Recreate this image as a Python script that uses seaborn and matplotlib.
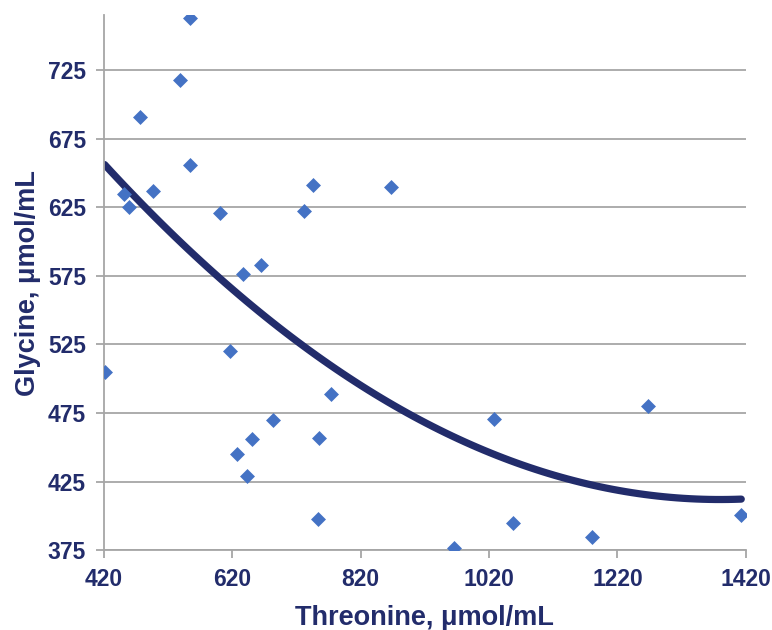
import matplotlib
matplotlib.use('Agg')
import matplotlib.pyplot as plt
import seaborn as sns
import numpy as np
import pandas as pd

# threonine vs glycine, umol/mL
threonine = [554, 538, 476, 554, 451, 459, 496, 600, 731, 745, 867, 636, 664,
             421, 617, 774, 684, 755, 651, 628, 643, 753,
             1027, 1268, 1058, 966, 1181, 1413]
glycine = [763, 718, 691, 656, 635, 625, 637, 621, 622, 641, 640, 576, 583,
           505, 520, 489, 470, 457, 456, 445, 429, 398,
           471, 480, 395, 377, 385, 401]

x_ticks = [420, 620, 820, 1020, 1220, 1420]
y_ticks = [375, 425, 475, 525, 575, 625, 675, 725]

df = pd.DataFrame({"Threonine": threonine, "Glycine": glycine})

navy = "#222C6B"
marker_blue = "#4472C4"
grid_gray = "#A6A6A6"

sns.set_style("white")
plt.rcParams['font.family'] = ['Liberation Sans', 'DejaVu Sans']

fig = plt.figure(figsize=(7.72, 6.30), dpi=100)
ax = fig.add_axes([0.1347, 0.1265, 0.8313, 0.8495])

# order-2 polynomial trend line, like the spreadsheet's
sns.regplot(data=df, x="Threonine", y="Glycine", order=2, ci=None,
            scatter=False, truncate=True, ax=ax,
            line_kws={"color": navy, "linewidth": 5.2, "solid_capstyle": "round", "zorder": 2})
sns.scatterplot(data=df, x="Threonine", y="Glycine", marker="D", s=58,
                color=marker_blue, edgecolor=marker_blue, linewidth=0, ax=ax, zorder=3)

ax.set_xlim(420, 1420)
ax.set_ylim(375, 765)
ax.set_xticks(x_ticks)
ax.set_yticks(y_ticks)

ax.grid(axis='y', color=grid_gray, linewidth=1.3)
ax.set_axisbelow(True)
for side in ["top", "right"]:
    ax.spines[side].set_visible(False)
ax.spines["left"].set_color(grid_gray)
ax.spines["left"].set_linewidth(1.3)
ax.spines["bottom"].set_color(grid_gray)
ax.spines["bottom"].set_linewidth(1.3)

ax.tick_params(axis='both', which='major', length=6, width=1.3, color=grid_gray,
               labelsize=16.5, labelcolor=navy, pad=7, left=True, bottom=True)
for lbl in ax.get_xticklabels() + ax.get_yticklabels():
    lbl.set_fontweight('bold')

ax.set_xlabel("Threonine, \u03bcmol/mL", fontsize=19.5, fontweight='bold', color=navy, labelpad=10)
ax.set_ylabel("Glycine, \u03bcmol/mL", fontsize=19.5, fontweight='bold', color=navy, labelpad=5)

fig.savefig("out.png", dpi=100)
plt.close(fig)
